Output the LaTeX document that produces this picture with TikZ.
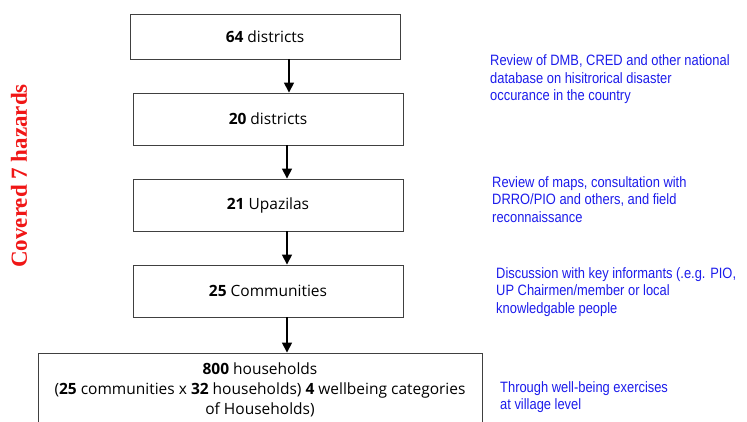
\documentclass[tikz,border=0pt]{standalone}
\usepackage{fontspec}
\usetikzlibrary{arrows.meta}
\setmainfont{Open Sans}
\newfontfamily\notefont[FakeStretch=0.86]{Liberation Sans}
\newfontfamily\sidefont{Liberation Serif}
\definecolor{noteblue}{RGB}{28,28,235}
\definecolor{sidered}{RGB}{240,22,22}
\begin{document}
\begin{tikzpicture}[x=1pt, y=-1pt,
    stage/.style={draw=black!75, line width=0.9pt, minimum width=270pt, minimum height=52pt,
        font=\fontsize{15.5}{20}\selectfont, align=center},
    note/.style={anchor=west, text=noteblue, align=left, inner sep=0pt,
        font=\notefont\fontsize{15}{17.5}\selectfont},
    flow/.style={-{Triangle[length=10pt, width=10pt]}, line width=1.6pt}]
    \useasboundingbox[clip] (0,0) rectangle (747,421);
    % Etapas de la selección
    \node[stage, minimum height=45pt] (b1) at (265,36.5) {\textbf{64} districts};
    \node[stage] (b2) at (268,119) {\textbf{20} districts};
    \node[stage] (b3) at (268,205) {\textbf{21} Upazilas};
    \node[stage] (b4) at (268,291) {\textbf{25} Communities};
    \node[stage, minimum width=444pt, minimum height=74pt] (b5) at (260,390)
        {\textbf{800} households\\(\textbf{25} communities x \textbf{32} households) \textbf{4} wellbeing categories\\of Households)};

    % Flechas entre etapas
    \draw[flow] ([xshift=24pt]b1.south) -- ([xshift=21pt]b2.north);
    \draw[flow] ([xshift=19pt]b2.south) -- ([xshift=19pt]b3.north);
    \draw[flow] ([xshift=19pt]b3.south) -- ([xshift=19pt]b4.north);
    \draw[flow] ([xshift=19pt]b4.south) -- ([xshift=27pt]b5.north);

    % Notas de método
    \node[note] (n1) at (490,79.5) {Review of DMB, CRED and other national\\database on hisitrorical disaster\\occurance in the country};
    \node[note] (n2) at (492,199.5) {Review of maps, consultation with\\DRRO/PIO and others, and field\\reconnaissance};
    \node[note] (n3) at (496,292) {Discussion with key informants (.e.g. PIO,\\UP Chairmen/member or local\\knowledgable people};
    \node[note] (n4) at (500,397) {Through well-being exercises\\at village level};

    % Rótulo lateral
    \node[rotate=90, text=sidered, font=\sidefont\bfseries\fontsize{23}{26}\selectfont] (side) at (19,176) {Covered 7 hazards};
\end{tikzpicture}
\end{document}
